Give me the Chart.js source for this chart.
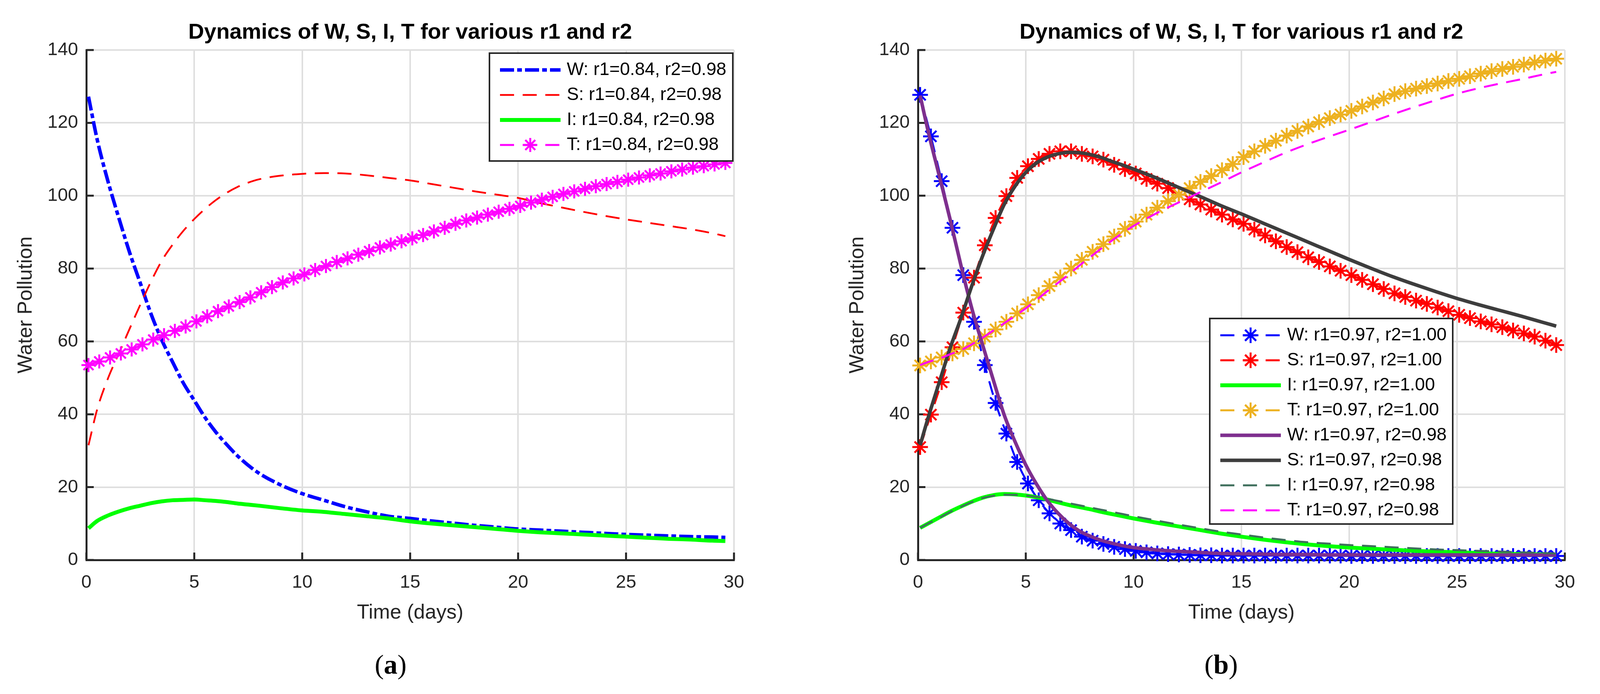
<!DOCTYPE html>
<html>
<head>
<meta charset="utf-8">
<title>Dynamics of W, S, I, T for various r1 and r2</title>
<script src="https://cdn.jsdelivr.net/npm/chart.js@4.4.1/dist/chart.umd.min.js"></script>
<style>
  html, body { margin: 0; padding: 0; background: #fff; }
  #page { position: relative; width: 4106px; height: 1776px; background: #fff; overflow: hidden; }
  canvas { position: absolute; top: 0; }
  .cap { position: absolute; top: 1666px; width: 300px; margin-left: -150px; text-align: center;
         font-family: 'Liberation Serif', 'Times New Roman', serif; font-size: 70px; line-height: 70px; color: #000; }
</style>
</head>
<body>
<div id="page">
  <canvas id="panelA" width="2053" height="1620" style="left:0px;width:2053px;height:1620px"></canvas>
  <canvas id="panelB" width="1977" height="1620" style="left:2129px;width:1977px;height:1620px"></canvas>
  <div class="cap" style="left:1000px">(<b>a</b>)</div>
  <div class="cap" style="left:3126px">(<b>b</b>)</div>
</div>
<script>
// ---- tick labels ----
const xTicks = [0, 5, 10, 15, 20, 25, 30];
const yTicks = [0, 20, 40, 60, 80, 100, 120, 140];

// ---- time points ----
// times where the asterisk markers sit (both panels)
const tMark = [0.1, 0.6, 1.1, 1.6, 2.1, 2.6, 3.1, 3.6, 4.1, 4.6, 5.1, 5.6, 6.1, 6.6, 7.1, 7.6, 8.1, 8.6, 9.1, 9.6,
  10.1, 10.6, 11.1, 11.6, 12.1, 12.6, 13.1, 13.6, 14.1, 14.6, 15.1, 15.6, 16.1, 16.6, 17.1, 17.6, 18.1, 18.6, 19.1, 19.6,
  20.1, 20.6, 21.1, 21.6, 22.1, 22.6, 23.1, 23.6, 24.1, 24.6, 25.1, 25.6, 26.1, 26.6, 27.1, 27.6, 28.1, 28.6, 29.1, 29.6];
// times for the plain lines
const tLineA = [0.1, 0.5, 1, 1.5, 2, 2.5, 3, 3.5, 4, 4.5, 5, 5.5, 6, 6.5, 7, 7.5, 8, 9, 10, 11,
  12, 13, 14, 15, 16, 17, 18, 19, 20, 21, 22, 23, 24, 25, 26, 27, 28, 29, 29.6];
const tLineB = [0.1, 0.5, 1, 1.5, 2, 2.5, 3, 3.5, 4, 4.5, 5, 5.5, 6, 6.5, 7, 7.5, 8, 8.5, 9, 9.5,
  10, 11, 12, 13, 14, 15, 16, 17, 18, 19, 20, 21, 22, 23, 24, 25, 26, 27, 28, 29, 29.6];

// ---- panel (a): r1=0.84, r2=0.98 ----
const Wa = [127.2, 115.5, 104, 94, 84.5, 76, 67.5, 60.3, 54.3, 48.5, 43.8, 39.1, 35.1, 31.7, 28.6, 26.0, 23.8, 20.6, 18.2, 16.4,
  14.6, 13.2, 12.0, 11.4, 10.7, 10.1, 9.5, 9.0, 8.5, 8.2, 7.9, 7.6, 7.3, 7.0, 6.8, 6.6, 6.4, 6.3, 6.2];
const Sa = [31.5, 41.3, 49.8, 56.6, 63.4, 70.1, 76.5, 82.2, 86.6, 90.4, 93.6, 96.4, 98.8, 100.8, 102.4, 103.6, 104.5, 105.5, 106, 106.2,
  106.1, 105.6, 104.9, 104.2, 103.2, 102.2, 101.2, 100.3, 99.4, 98.0, 96.8, 95.6, 94.5, 93.5, 92.6, 91.7, 90.8, 89.7, 88.9];
const Ia = [8.7, 10.7, 12.2, 13.3, 14.2, 14.9, 15.6, 16.1, 16.4, 16.5, 16.6, 16.4, 16.2, 15.9, 15.5, 15.2, 14.9, 14.2, 13.6, 13.2,
  12.6, 12.0, 11.4, 10.6, 10.0, 9.5, 9.0, 8.5, 8.0, 7.6, 7.3, 7.0, 6.7, 6.4, 6.1, 5.8, 5.6, 5.3, 5.2];
const Ta = [53.5, 54.5, 55.6, 56.7, 57.8, 59.2, 60.5, 61.7, 62.9, 64.1, 65.5, 66.9, 68.3, 69.6, 70.8, 72.1, 73.5, 74.9, 76.2, 77.3,
  78.4, 79.6, 80.7, 81.8, 82.8, 83.8, 84.8, 85.8, 86.6, 87.5, 88.3, 89.2, 90.2, 91.2, 92.3, 93.2, 94.0, 94.8, 95.6, 96.4,
  97.2, 98.1, 98.9, 99.7, 100.5, 101.2, 101.9, 102.6, 103.2, 103.8, 104.4, 105.0, 105.6, 106.1, 106.7, 107.2, 107.7, 108.1, 108.6, 109.0];

// ---- panel (b): r1=0.97, r2=1.00 ----
const Wb = [127.7, 116.3, 104, 91.2, 78.2, 65.4, 53.5, 43.1, 34.7, 26.9, 21.0, 16.4, 12.8, 10.0, 8.2, 6.4, 5.3, 4.4, 3.6, 3.0,
  2.5, 2.1, 1.8, 1.6, 1.5, 1.4, 1.3, 1.3, 1.2, 1.2, 1.2, 1.2, 1.2, 1.2, 1.2, 1.2, 1.2, 1.2, 1.2, 1.2,
  1.1, 1.1, 1.1, 1.1, 1.1, 1.1, 1.1, 1.1, 1.1, 1.1, 1.1, 1.1, 1.1, 1.1, 1.1, 1.1, 1.1, 1.1, 1.1, 1.1];
const Sb = [31, 39.9, 48.8, 58.4, 67.9, 77.5, 86.4, 93.9, 99.9, 104.9, 108.1, 110.1, 111.5, 112.2, 112.2, 111.5, 110.8, 109.9, 108.5, 107.3,
  106.1, 104.6, 103.3, 102.1, 100.3, 99.0, 97.6, 96.2, 94.8, 93.5, 92.3, 90.7, 89.1, 87.5, 85.9, 84.5, 83.1, 81.8, 80.6, 79.4,
  78.2, 76.9, 75.7, 74.4, 73.2, 72.2, 71.2, 70.3, 69.3, 68.3, 67.3, 66.4, 65.5, 64.7, 63.9, 63.0, 62.2, 61.3, 60.2, 59.0];
const Ib = [8.8, 10.1, 11.7, 13.3, 14.7, 16, 17.1, 17.8, 18.1, 18, 17.7, 17.2, 16.6, 15.8, 15.1, 14.5, 13.9, 13.2, 12.6, 12.0,
  11.4, 10.3, 9.3, 8.3, 7.3, 6.4, 5.6, 4.9, 4.3, 3.8, 3.4, 3.1, 2.8, 2.5, 2.3, 2.1, 1.9, 1.7, 1.6, 1.5, 1.4];
const Tb = [53.4, 54.5, 55.6, 56.7, 57.9, 59.5, 61.3, 63.3, 65.4, 67.7, 70.2, 72.7, 75.2, 77.6, 80.0, 82.4, 84.6, 86.7, 88.8, 90.9,
  92.9, 94.8, 96.7, 98.5, 100.3, 102.1, 103.8, 105.4, 107.0, 108.7, 110.6, 112.2, 113.7, 115.1, 116.5, 117.8, 119.0, 120.2, 121.3, 122.3,
  123.3, 124.5, 125.6, 126.7, 127.9, 128.7, 129.4, 130.1, 130.8, 131.5, 132.1, 132.8, 133.5, 134.2, 134.8, 135.4, 136.0, 136.6, 137.1, 137.6];

// ---- panel (b): r1=0.97, r2=0.98 ----
const Wb2 = [127.5, 117, 105.2, 93.3, 80.7, 69, 59, 49.3, 39.8, 32.5, 26.1, 20.8, 16.3, 12.8, 10, 7.9, 6.5, 5.4, 4.6, 3.9,
  3.4, 2.8, 2.4, 2.1, 1.8, 1.7, 1.6, 1.5, 1.5, 1.4, 1.4, 1.4, 1.4, 1.4, 1.4, 1.4, 1.4, 1.4, 1.4, 1.4, 1.4];
const Sb2 = [31.5, 39.6, 49, 58.3, 66.5, 75.3, 83.5, 90.8, 97.6, 102.6, 106.4, 109, 110.6, 111.5, 111.9, 111.8, 111.3, 110.5, 109.4, 108.4,
  107.3, 105, 102.5, 100, 97.4, 95.0, 92.5, 90.0, 87.5, 85.0, 82.5, 80.1, 77.8, 75.7, 73.7, 71.8, 70.1, 68.5, 66.9, 65.2, 64.2];
const Ib2 = [8.8, 10.1, 11.6, 13.2, 14.6, 15.9, 17, 17.6, 17.9, 17.9, 17.7, 17.3, 16.8, 16.2, 15.6, 15, 14.4, 13.8, 13.2, 12.6,
  12, 10.9, 9.8, 8.8, 7.8, 7.0, 6.2, 5.5, 4.9, 4.5, 4.1, 3.8, 3.5, 3.2, 2.9, 2.7, 2.5, 2.3, 2.1, 1.9, 1.8];
const Tb2 = [53.5, 54.4, 55.3, 56.5, 57.6, 59.2, 61, 63, 65, 67, 69.1, 71.4, 73.8, 76.1, 78.4, 80.9, 83.2, 85.5, 87.7, 89.8,
  91.7, 95, 97.9, 100.7, 103.5, 106.4, 109.1, 111.7, 114.0, 116.1, 118.1, 120.2, 122.3, 124.3, 126.2, 128.0, 129.5, 130.8, 132.0, 133.3, 134.0];

const AXIS = '#262626';
const GRID = '#dfdfdf';
const DASH = [36, 22];

Chart.defaults.font.family = "'Liberation Sans', Arial, sans-serif";
Chart.defaults.color = AXIS;

function pts(ts, vs) {
  return ts.map((t, i) => ({ x: t, y: vs[i] }));
}

function series(label, ts, vs, color, width, dash, markerSize) {
  return {
    label: label,
    data: pts(ts, vs),
    borderColor: color,
    backgroundColor: color,
    borderWidth: width,
    borderDash: dash,
    borderJoinStyle: 'round',
    cubicInterpolationMode: 'monotone',
    fill: false,
    clip: false,
    pointStyle: 'star',
    pointRadius: markerSize,
    pointHoverRadius: markerSize,
    pointBorderWidth: 5,
    pointBorderColor: color,
    pointBackgroundColor: color
  };
}

// title centred over the axes box
const axesTitle = {
  id: 'axesTitle',
  afterDraw(chart, args, opts) {
    const { ctx, chartArea } = chart;
    ctx.save();
    ctx.font = "bold 56px 'Liberation Sans', Arial, sans-serif";
    ctx.fillStyle = '#000';
    ctx.textAlign = 'center';
    ctx.textBaseline = 'middle';
    ctx.fillText(opts.text, (chartArea.left + chartArea.right) / 2, chartArea.top - 44);
    ctx.restore();
  }
};

// matlab style tick marks pointing into the axes
const innerTicks = {
  id: 'innerTicks',
  beforeDatasetsDraw(chart) {
    const { ctx, chartArea, scales } = chart;
    ctx.save();
    ctx.strokeStyle = AXIS;
    ctx.lineWidth = 5;
    ctx.beginPath();
    scales.x.ticks.forEach(t => {
      const px = scales.x.getPixelForValue(t.value);
      ctx.moveTo(px, chartArea.bottom);
      ctx.lineTo(px, chartArea.bottom - 19);
    });
    scales.y.ticks.forEach(t => {
      const py = scales.y.getPixelForValue(t.value);
      ctx.moveTo(chartArea.left, py);
      ctx.lineTo(chartArea.left + 19, py);
    });
    ctx.stroke();
    ctx.restore();
  }
};

function drawStar(ctx, x, y, r, lw, color) {
  const d = r * Math.SQRT1_2;
  ctx.save();
  ctx.strokeStyle = color;
  ctx.lineWidth = lw;
  ctx.setLineDash([]);
  ctx.beginPath();
  ctx.moveTo(x - r, y); ctx.lineTo(x + r, y);
  ctx.moveTo(x, y - r); ctx.lineTo(x, y + r);
  ctx.moveTo(x - d, y - d); ctx.lineTo(x + d, y + d);
  ctx.moveTo(x - d, y + d); ctx.lineTo(x + d, y - d);
  ctx.stroke();
  ctx.restore();
}

// boxed legend inside the axes, like the matlab one
const boxLegend = {
  id: 'boxLegend',
  afterDatasetsDraw(chart, args, opts) {
    const { ctx, chartArea } = chart;
    const left = chartArea.left + opts.left;
    const top = chartArea.top + opts.top;
    ctx.save();
    ctx.fillStyle = '#fff';
    ctx.fillRect(left, top, opts.width, opts.height);
    ctx.lineWidth = 4;
    ctx.strokeStyle = AXIS;
    ctx.strokeRect(left, top, opts.width, opts.height);
    ctx.font = "46px 'Liberation Sans', Arial, sans-serif";
    ctx.textBaseline = 'middle';
    ctx.textAlign = 'left';
    chart.data.datasets.forEach((ds, i) => {
      const y = top + 43 + i * 64;
      const x0 = left + 27;
      const x1 = x0 + 155;
      ctx.save();
      ctx.strokeStyle = ds.borderColor;
      ctx.lineWidth = ds.borderWidth;
      ctx.setLineDash(ds.borderDash || []);
      ctx.beginPath();
      ctx.moveTo(x0, y);
      ctx.lineTo(x1, y);
      ctx.stroke();
      ctx.restore();
      if (ds.pointRadius > 0) {
        drawStar(ctx, (x0 + x1) / 2, y, ds.pointRadius, ds.pointBorderWidth, ds.borderColor);
      }
      ctx.fillStyle = '#000';
      ctx.fillText(ds.label, left + 198, y);
    });
    ctx.restore();
  }
};

function buildScales() {
  return {
    x: {
      type: 'linear',
      min: 0,
      max: 30,
      afterBuildTicks: s => { s.ticks = xTicks.map(v => ({ value: v })); },
      ticks: { font: { size: 47 }, color: AXIS, padding: 30, maxRotation: 0 },
      grid: { color: GRID, lineWidth: 4, drawTicks: false },
      border: { display: true, color: AXIS, width: 5 },
      title: { display: true, text: 'Time (days)', font: { size: 52 }, color: AXIS, padding: { top: 0, bottom: 20 } },
      afterFit: s => { s.height = 187; }
    },
    y: {
      type: 'linear',
      min: 0,
      max: 140,
      afterBuildTicks: s => { s.ticks = yTicks.map(v => ({ value: v })); },
      ticks: { font: { size: 47 }, color: AXIS, padding: 21 },
      grid: { color: GRID, lineWidth: 4, drawTicks: false },
      border: { display: true, color: AXIS, width: 5 },
      title: { display: true, text: 'Water Pollution', font: { size: 52 }, color: AXIS, padding: { top: 35, bottom: 0 } },
      afterFit: s => { s.width = 221; }
    }
  };
}

function withOrder(list) {
  // later series are drawn on top, as in the original figure
  return list.map((ds, i) => Object.assign(ds, { order: list.length - i }));
}

const titleText = 'Dynamics of W, S, I, T for various r1 and r2';

new Chart(document.getElementById('panelA'), {
  type: 'line',
  data: {
    datasets: withOrder([
      series('W: r1=0.84, r2=0.98', tLineA, Wa, '#0000ff', 9, [36, 8, 12, 8], 0),
      series('S: r1=0.84, r2=0.98', tLineA, Sa, '#ff0000', 4.5, DASH, 0),
      series('I: r1=0.84, r2=0.98', tLineA, Ia, '#00ff00', 10, [], 0),
      series('T: r1=0.84, r2=0.98', tMark, Ta, '#ff00ff', 5, DASH, 18)
    ])
  },
  options: {
    responsive: false,
    devicePixelRatio: 1,
    animation: false,
    events: [],
    layout: { padding: { top: 128, left: 0, right: 174, bottom: 0 } },
    scales: buildScales(),
    plugins: {
      legend: { display: false },
      tooltip: { enabled: false },
      axesTitle: { text: titleText },
      boxLegend: { left: 1032, top: 8, width: 623, height: 276 }
    }
  },
  plugins: [innerTicks, boxLegend, axesTitle]
});

new Chart(document.getElementById('panelB'), {
  type: 'line',
  data: {
    datasets: withOrder([
      series('W: r1=0.97, r2=1.00', tMark, Wb, '#0000ff', 5, DASH, 20),
      series('S: r1=0.97, r2=1.00', tMark, Sb, '#ff0000', 5, DASH, 20),
      series('I: r1=0.97, r2=1.00', tLineB, Ib, '#00ff00', 10, [], 0),
      series('T: r1=0.97, r2=1.00', tMark, Tb, '#edb120', 5, DASH, 20),
      series('W: r1=0.97, r2=0.98', tLineB, Wb2, '#7e2f8e', 9, [], 0),
      series('S: r1=0.97, r2=0.98', tLineB, Sb2, '#3d3d3d', 9, [], 0),
      series('I: r1=0.97, r2=0.98', tLineB, Ib2, '#3f6f5c', 5, DASH, 0),
      series('T: r1=0.97, r2=0.98', tLineB, Tb2, '#ff00ff', 5, DASH, 0)
    ])
  },
  options: {
    responsive: false,
    devicePixelRatio: 1,
    animation: false,
    events: [],
    layout: { padding: { top: 128, left: 0, right: 100, bottom: 0 } },
    scales: buildScales(),
    plugins: {
      legend: { display: false },
      tooltip: { enabled: false },
      axesTitle: { text: titleText },
      boxLegend: { left: 747, top: 687, width: 622, height: 526 }
    }
  },
  plugins: [innerTicks, boxLegend, axesTitle]
});
</script>
</body>
</html>
